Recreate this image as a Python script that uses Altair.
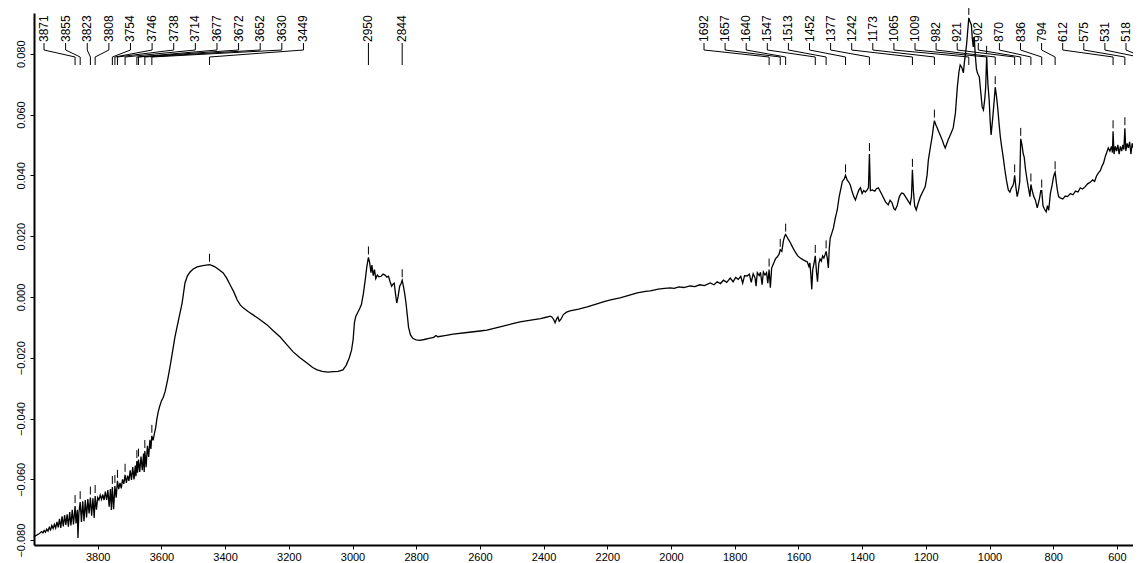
import altair as alt
import pandas as pd

# ---------------- spectrum data (wavenumber cm-1, absorbance) ----------------
wn_a = [4000, 3996, 3992, 3988, 3984, 3980, 3976, 3972, 3968, 3964,
        3960, 3956, 3952, 3948, 3944, 3940, 3936, 3932, 3928, 3924,
        3920, 3916, 3912, 3908, 3904, 3900, 3896, 3892, 3888, 3884,
        3880, 3876, 3871, 3868, 3864, 3862, 3859, 3855, 3851, 3847,
        3843, 3839, 3835, 3831, 3827, 3823, 3819, 3815, 3811, 3808,
        3804, 3800, 3796, 3792, 3788, 3784, 3780, 3776, 3772, 3768,
        3764, 3760, 3757, 3754, 3750, 3746, 3742, 3738, 3734, 3730,
        3726, 3722, 3718, 3714, 3710, 3706, 3702, 3698, 3694, 3690,
        3686, 3682, 3680, 3677, 3675, 3672, 3668, 3664, 3660, 3656,
        3654, 3652, 3648, 3644, 3640, 3636, 3633, 3630, 3626, 3622,
        3618, 3614, 3610, 3606, 3600]
ab_a = [-0.0790, -0.0786, -0.0784, -0.0781, -0.0779, -0.0776, -0.0772, -0.0776, -0.0768, -0.0774,
        -0.0764, -0.0770, -0.0758, -0.0766, -0.0752, -0.0762, -0.0748, -0.0760, -0.0740, -0.0758,
        -0.0730, -0.0760, -0.0722, -0.0755, -0.0718, -0.0750, -0.0715, -0.0756, -0.0708, -0.0752,
        -0.0700, -0.0748, -0.0688, -0.0745, -0.0700, -0.0793, -0.0710, -0.0675, -0.0740, -0.0672,
        -0.0738, -0.0668, -0.0725, -0.0665, -0.0712, -0.0660, -0.0720, -0.0662, -0.0727, -0.0655,
        -0.0700, -0.0660, -0.0668, -0.0652, -0.0666, -0.0650, -0.0668, -0.0640, -0.0668, -0.0635,
        -0.0690, -0.0632, -0.0701, -0.0625, -0.0698, -0.0622, -0.0660, -0.0605, -0.0632, -0.0612,
        -0.0630, -0.0600, -0.0615, -0.0585, -0.0612, -0.0588, -0.0605, -0.0570, -0.0602, -0.0560,
        -0.0600, -0.0555, -0.0590, -0.0540, -0.0578, -0.0535, -0.0576, -0.0525, -0.0570, -0.0515,
        -0.0576, -0.0507, -0.0560, -0.0490, -0.0526, -0.0470, -0.0500, -0.0457, -0.0472, -0.0450,
        -0.0430, -0.0400, -0.0378, -0.0362, -0.0342]

wn_b = [3594, 3588, 3580, 3573, 3565, 3558, 3551, 3543, 3535, 3526,
        3518, 3510, 3500, 3488, 3470, 3449, 3440, 3432, 3420, 3406,
        3395, 3384, 3372, 3362, 3352, 3343, 3328, 3312, 3290, 3268,
        3248, 3227, 3207, 3187, 3165, 3143, 3125, 3111, 3095, 3077,
        3060, 3045, 3030, 3020, 3010, 3003, 2998, 2994, 2990, 2984,
        2978, 2972, 2966, 2960, 2955, 2950, 2946, 2942, 2939, 2935,
        2931, 2927, 2922, 2917, 2910, 2904, 2898, 2892, 2887, 2882,
        2877, 2873, 2869, 2865, 2861, 2857, 2852, 2847, 2844, 2840,
        2836, 2832, 2828, 2824, 2818, 2810, 2800, 2788, 2775, 2760,
        2745, 2738, 2732, 2710, 2684, 2640, 2600, 2578, 2540, 2500,
        2474, 2440, 2410, 2389, 2380, 2374, 2368, 2364, 2359, 2355,
        2351, 2346, 2338, 2328, 2317, 2290, 2263, 2240, 2213, 2190,
        2160, 2130, 2106, 2080, 2065, 2040, 2020, 2002]
ab_b = [-0.0330, -0.0310, -0.0270, -0.0230, -0.0180, -0.0135, -0.0099, -0.0060, -0.0020, 0.0046,
        0.0070, 0.0082, 0.0092, 0.0099, 0.0103, 0.0106, 0.0103, 0.0099, 0.0090, 0.0079,
        0.0062, 0.0039, 0.0015, -0.0010, -0.0027, -0.0036, -0.0048, -0.0059, -0.0075, -0.0092,
        -0.0112, -0.0132, -0.0156, -0.0180, -0.0200, -0.0217, -0.0232, -0.0240, -0.0245, -0.0247,
        -0.0246, -0.0245, -0.0240, -0.0225, -0.0200, -0.0175, -0.0140, -0.0085, -0.0065, -0.0052,
        -0.0040, -0.0025, 0.0010, 0.0056, 0.0100, 0.0130, 0.0112, 0.0080, 0.0105, 0.0070,
        0.0090, 0.0060, 0.0072, 0.0066, 0.0068, 0.0075, 0.0072, 0.0065, 0.0068, 0.0050,
        0.0035, 0.0042, 0.0045, 0.0010, -0.0020, 0.0000, 0.0035, 0.0045, 0.0055, 0.0035,
        0.0010, -0.0020, -0.0060, -0.0100, -0.0125, -0.0137, -0.0141, -0.0143, -0.0140, -0.0136,
        -0.0133, -0.0127, -0.0131, -0.0127, -0.0122, -0.0117, -0.0112, -0.0109, -0.0099, -0.0089,
        -0.0082, -0.0076, -0.0071, -0.0066, -0.0063, -0.0066, -0.0075, -0.0085, -0.0072, -0.0066,
        -0.0080, -0.0074, -0.0058, -0.0050, -0.0046, -0.0040, -0.0033, -0.0025, -0.0016, -0.0010,
        -0.0003, 0.0006, 0.0013, 0.0018, 0.0020, 0.0026, 0.0028, 0.0030]

wn_c = [1990, 1975, 1960, 1940, 1925, 1910, 1895, 1877, 1865, 1855,
        1845, 1835, 1825, 1814, 1805, 1797, 1789, 1781, 1775, 1769,
        1761, 1754, 1748, 1742, 1736, 1733, 1729, 1723, 1719, 1714,
        1710, 1705, 1700, 1696, 1692, 1688, 1684, 1678, 1672, 1666,
        1661, 1657, 1652, 1647, 1643, 1640, 1636, 1632, 1626, 1618,
        1610, 1602, 1594, 1585, 1577, 1572, 1567, 1564, 1561, 1558,
        1555, 1551, 1547, 1543, 1540, 1536, 1532, 1528, 1524, 1520,
        1516, 1513, 1509, 1506, 1503, 1500, 1495, 1490, 1484, 1478,
        1472, 1467, 1462, 1456, 1452, 1447, 1442, 1437, 1431, 1426,
        1421, 1416, 1410, 1405, 1400, 1395, 1390, 1384, 1380, 1377,
        1374, 1368, 1360, 1355, 1349, 1342, 1334, 1326, 1318, 1312,
        1306, 1300, 1296, 1290, 1283, 1276, 1270, 1264, 1258, 1252]
ab_c = [0.0028, 0.0033, 0.0031, 0.0036, 0.0034, 0.0040, 0.0037, 0.0046, 0.0040, 0.0050,
        0.0044, 0.0055, 0.0048, 0.0062, 0.0050, 0.0064, 0.0058, 0.0068, 0.0045, 0.0070,
        0.0069, 0.0075, 0.0048, 0.0076, 0.0062, 0.0035, 0.0080, 0.0070, 0.0081, 0.0040,
        0.0082, 0.0072, 0.0080, 0.0045, 0.0090, 0.0030, 0.0095, 0.0110, 0.0125, 0.0132,
        0.0140, 0.0155, 0.0150, 0.0185, 0.0200, 0.0205, 0.0198, 0.0190, 0.0180, 0.0163,
        0.0148, 0.0135, 0.0128, 0.0122, 0.0118, 0.0115, 0.0100, 0.0112, 0.0075, 0.0025,
        0.0090, 0.0110, 0.0135, 0.0080, 0.0050, 0.0110, 0.0125, 0.0118, 0.0135, 0.0128,
        0.0140, 0.0150, 0.0125, 0.0095, 0.0160, 0.0194, 0.0210, 0.0227, 0.0260, 0.0286,
        0.0330, 0.0355, 0.0380, 0.0388, 0.0400, 0.0385, 0.0378, 0.0368, 0.0345, 0.0330,
        0.0319, 0.0335, 0.0352, 0.0359, 0.0340, 0.0350, 0.0345, 0.0352, 0.0360, 0.0470,
        0.0350, 0.0352, 0.0348, 0.0356, 0.0359, 0.0345, 0.0329, 0.0312, 0.0303, 0.0318,
        0.0310, 0.0290, 0.0286, 0.0300, 0.0330, 0.0342, 0.0340, 0.0330, 0.0320, 0.0310]

wn_d = [1249, 1245, 1242, 1239, 1235, 1230, 1225, 1217, 1210, 1202,
        1196, 1192, 1186, 1180, 1176, 1173, 1168, 1164, 1160, 1155,
        1148, 1143, 1139, 1134, 1130, 1122, 1114, 1107, 1101, 1096,
        1092, 1087, 1082, 1079, 1076, 1072, 1068, 1065, 1061, 1057,
        1054, 1051, 1048, 1045, 1041, 1038, 1035, 1032, 1028, 1023,
        1019, 1015, 1012, 1009, 1005, 1001, 998, 995, 992, 989,
        985, 982, 978, 974, 970, 966, 962, 957, 952, 947,
        941, 936, 931, 927, 924, 921, 917, 913, 909, 905,
        902, 898, 894, 891, 887, 882, 878, 873, 870, 866,
        861, 856, 850, 846, 842, 839, 836, 832, 828, 822,
        818, 814, 809, 803, 799, 796, 794, 790, 787, 783,
        778, 770, 762, 755, 746, 738, 730, 722, 715, 708,
        700, 692, 683, 676, 670, 664, 658, 652, 647, 642,
        637, 632, 627, 622, 617, 614, 612, 609, 605, 601,
        597, 593, 589, 585, 581, 578, 575, 572, 568, 564,
        560, 556, 552, 548, 544, 540, 536, 533, 531, 528,
        525, 521, 518, 515, 510]
ab_d = [0.0305, 0.0330, 0.0418, 0.0350, 0.0300, 0.0286, 0.0305, 0.0330, 0.0345, 0.0362,
        0.0400, 0.0450, 0.0490, 0.0527, 0.0560, 0.0580, 0.0565, 0.0556, 0.0545, 0.0533,
        0.0515, 0.0500, 0.0490, 0.0505, 0.0516, 0.0535, 0.0556, 0.0605, 0.0690, 0.0740,
        0.0763, 0.0755, 0.0737, 0.0770, 0.0796, 0.0830, 0.0880, 0.0918, 0.0905, 0.0895,
        0.0850, 0.0822, 0.0855, 0.0800, 0.0750, 0.0737, 0.0730, 0.0724, 0.0680, 0.0625,
        0.0615, 0.0650, 0.0690, 0.0790, 0.0700, 0.0648, 0.0580, 0.0533, 0.0565, 0.0599,
        0.0650, 0.0690, 0.0660, 0.0620, 0.0570, 0.0527, 0.0495, 0.0460, 0.0420, 0.0385,
        0.0352, 0.0345, 0.0359, 0.0365, 0.0375, 0.0400, 0.0360, 0.0330, 0.0350, 0.0380,
        0.0520, 0.0500, 0.0470, 0.0460, 0.0420, 0.0385, 0.0360, 0.0330, 0.0370, 0.0350,
        0.0330, 0.0319, 0.0293, 0.0310, 0.0330, 0.0350, 0.0350, 0.0300, 0.0290, 0.0280,
        0.0300, 0.0285, 0.0340, 0.0370, 0.0395, 0.0405, 0.0410, 0.0375, 0.0352, 0.0330,
        0.0326, 0.0322, 0.0332, 0.0330, 0.0340, 0.0336, 0.0348, 0.0345, 0.0359, 0.0355,
        0.0362, 0.0372, 0.0378, 0.0385, 0.0380, 0.0398, 0.0408, 0.0415, 0.0430, 0.0440,
        0.0460, 0.0475, 0.0490, 0.0480, 0.0495, 0.0475, 0.0545, 0.0470, 0.0495, 0.0480,
        0.0500, 0.0470, 0.0495, 0.0480, 0.0500, 0.0485, 0.0555, 0.0480, 0.0505, 0.0490,
        0.0510, 0.0470, 0.0505, 0.0490, 0.0515, 0.0495, 0.0520, 0.0490, 0.0550, 0.0500,
        0.0515, 0.0500, 0.0540, 0.0505, 0.0510]

# ---------------- picked peaks ----------------
peak_wn = [3871, 3855, 3823, 3808, 3754, 3746, 3738, 3714, 3677, 3672, 3652, 3630, 3449,
           2950, 2844,
           1692, 1657, 1640, 1547, 1513, 1452, 1377, 1242, 1173, 1065, 1009, 982, 921, 902,
           870, 836, 794, 612, 575, 531, 518]
peak_ab = [-0.0688, -0.0675, -0.0660, -0.0655, -0.0625, -0.0622, -0.0605, -0.0585, -0.0540,
           -0.0535, -0.0507, -0.0457, 0.0106,
           0.0130, 0.0055,
           0.0090, 0.0155, 0.0205, 0.0135, 0.0150, 0.0400, 0.0470, 0.0418, 0.0580, 0.0918,
           0.0790, 0.0690, 0.0400, 0.0520, 0.0370, 0.0350, 0.0410, 0.0545, 0.0555, 0.0550, 0.0540]

x_ticks = [3800, 3600, 3400, 3200, 3000, 2800, 2600, 2400, 2200, 2000,
           1800, 1600, 1400, 1200, 1000, 800, 600]
y_ticks = [-0.08, -0.06, -0.04, -0.02, 0.0, 0.02, 0.04, 0.06, 0.08]

# ---------------- layout ----------------
PAD_L, PAD_T, PAD_B = 26, 5, 18
PLOT_W, PLOT_H = 1099, 532
PX_PER_CM = 0.3185
X_MAX = 4000
X_MIN = X_MAX - PLOT_W / PX_PER_CM
Y_MIN, Y_MAX = -0.0816, 0.0934
FONT = "Liberation Sans, Arial, sans-serif"


def px_to_wn(px):
    return X_MAX - px / PX_PER_CM


wn = wn_a + wn_b + wn_c + wn_d
ab = ab_a + ab_b + ab_c + ab_d
assert len(wn) == len(ab)
assert len(peak_wn) == len(peak_ab)
spec = pd.DataFrame({"wn": wn, "ab": ab, "i": list(range(len(wn)))})
peaks = pd.DataFrame({"wn": peak_wn, "ab": peak_ab})

label_w = []
for k in range(len(peak_wn)):
    if k < 13:
        label_w.append(px_to_wn(10 + k * 21.62))
    elif k < 15:
        label_w.append(peak_wn[k])
    else:
        label_w.append(px_to_wn(670 + (k - 15) * 21.1))

labels = pd.DataFrame({"lw": label_w, "txt": [str(v) for v in peak_wn]})

conn_y = [30, 37, 44, 52]
rows = []
for k, (pw, lw) in enumerate(zip(peak_wn, label_w)):
    pts = [lw, lw, pw, pw]
    for j in range(4):
        rows.append({"lab": k, "j": j, "cx": pts[j], "cy": conn_y[j]})
conn = pd.DataFrame(rows)

xs = alt.Scale(domain=[X_MIN, X_MAX], reverse=True, nice=False, zero=False)
ys = alt.Scale(domain=[Y_MIN, Y_MAX], nice=False, zero=False)

x_axis = alt.Axis(values=x_ticks, format="d", title=None, tickSize=4,
                  labelPadding=2, labelFlush=False, domainWidth=2, labelFontSize=11)
y_axis = alt.Axis(values=y_ticks, format=".3f", title=None, tickSize=4,
                  labelAngle=270, labelAlign="center", labelBaseline="bottom",
                  labelPadding=4, labelFlush=False, domainWidth=2, labelFontSize=11)

line = alt.Chart(spec).mark_line(color="black", strokeWidth=1.3).encode(
    x=alt.X("wn:Q", scale=xs, axis=x_axis),
    y=alt.Y("ab:Q", scale=ys, axis=y_axis),
    order=alt.Order("i:Q"),
)

dash = alt.Chart(peaks).mark_rule(color="black", strokeWidth=1, yOffset=-3, y2Offset=-11).encode(
    x=alt.X("wn:Q", scale=xs, axis=x_axis),
    y=alt.Y("ab:Q", scale=ys, axis=y_axis),
    y2=alt.Y2("ab"),
)

connectors = alt.Chart(conn).mark_line(color="black", strokeWidth=1).encode(
    x=alt.X("cx:Q", scale=xs, axis=x_axis),
    y=alt.Y("cy:Q", scale=None),
    detail="lab:N",
    order=alt.Order("j:Q"),
)

text = alt.Chart(labels).mark_text(angle=270, align="left", baseline="middle",
                                   fontSize=12, font=FONT, color="black").encode(
    x=alt.X("lw:Q", scale=xs, axis=x_axis),
    y=alt.value(29),
    text="txt:N",
)

chart = alt.layer(line, dash, connectors, text).properties(
    width=PLOT_W,
    height=PLOT_H,
    autosize=alt.AutoSizeParams(type="none"),
    padding={"left": PAD_L, "top": PAD_T, "right": 0, "bottom": PAD_B},
    background="white",
).configure_view(stroke=None).configure_axis(
    labelFont=FONT, labelColor="black", tickColor="black", domainColor="black", grid=False
)

chart.save("out.html", embed_options={"renderer": "svg", "actions": False})
